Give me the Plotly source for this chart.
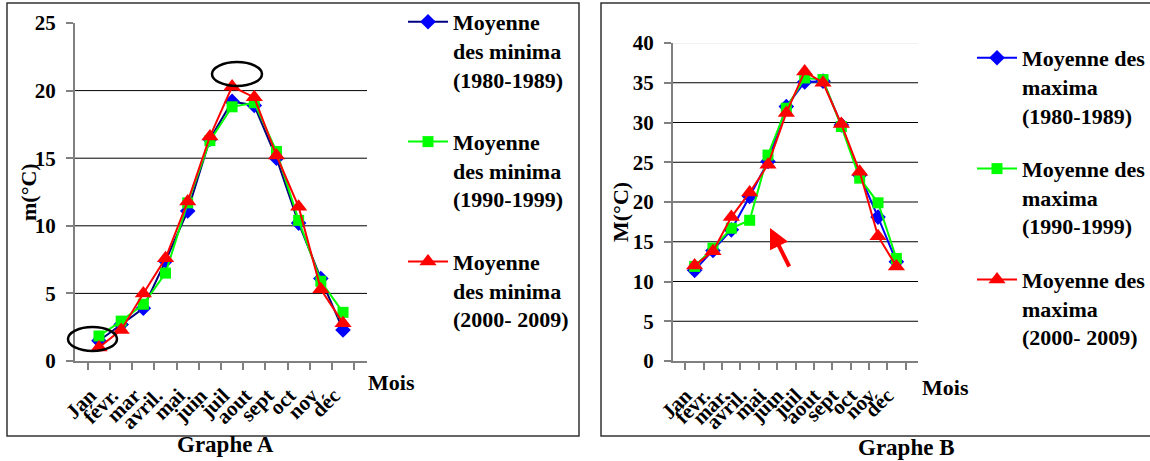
import plotly.graph_objects as go

W, H = 1150, 461

# Month labels for the two panels
months_a = ["Jan", "févr.", "mar", "avril.", "mai", "juin", "juil", "aout", "sept", "oct", "nov", "déc"]
months_b = ["Jan", "févr.", "mar.", "avril.", "mai", "juin", "juil", "aout", "sept", "oct", "nov", "déc"]

# Graphe A: monthly mean of minima (°C)
min_1980_1989 = [1.5, 2.7, 3.9, 7.4, 11.1, 16.4, 19.2, 18.9, 15.0, 10.2, 6.1, 2.3]
min_1990_1999 = [1.85, 2.95, 4.2, 6.5, 11.7, 16.3, 18.8, 19.1, 15.5, 10.4, 5.9, 3.6]
min_2000_2009 = [1.0, 2.3, 5.0, 7.6, 11.8, 16.6, 20.3, 19.5, 15.2, 11.4, 5.3, 2.8]

# Graphe B: monthly mean of maxima (°C)
max_1980_1989 = [11.4, 13.9, 16.5, 20.7, 25.1, 32.0, 35.1, 35.2, 29.7, 23.4, 18.1, 12.5]
max_1990_1999 = [11.9, 14.2, 16.7, 17.7, 25.9, 31.8, 35.6, 35.4, 29.5, 23.0, 19.9, 12.9]
max_2000_2009 = [12.0, 13.8, 18.1, 21.2, 24.7, 31.2, 36.4, 35.0, 29.8, 23.8, 15.7, 11.9]

names_a = ["Moyenne<br>des minima<br>(1980-1989)",
           "Moyenne<br>des minima<br>(1990-1999)",
           "Moyenne<br>des minima<br>(2000- 2009)"]
names_b = ["Moyenne des<br>maxima<br>(1980-1989)",
           "Moyenne des<br>maxima<br>(1990-1999)",
           "Moyenne des<br>maxima<br>(2000- 2009)"]


def px(x):
    return x / W


def py(y):
    return 1 - y / H


SERIF = "Liberation Serif, Times New Roman, serif"
BOLD = dict(family=SERIF, color="black", weight="bold")

styles = [
    dict(symbol="diamond", size=12, color="#0000FF"),
    dict(symbol="square", size=11, color="#00FF00"),
    dict(symbol="triangle-up", size=15, color="#FF0000"),
]

fig = go.Figure()

line_a = ["#000080", "#00FF00", "#FF0000"]
for i, (vals, name) in enumerate(zip([min_1980_1989, min_1990_1999, min_2000_2009], names_a)):
    st = styles[i]
    fig.add_trace(go.Scatter(
        x=months_a, y=vals, name=name, mode="lines+markers",
        line=dict(color=line_a[i], width=2),
        marker=dict(symbol=st["symbol"], size=st["size"], color=st["color"]),
        xaxis="x", yaxis="y", legend="legend", legendgroup=f"a{i}",
    ))

line_b = ["#0000FF", "#00FF00", "#FF0000"]
for i, (vals, name) in enumerate(zip([max_1980_1989, max_1990_1999, max_2000_2009], names_b)):
    st = styles[i]
    fig.add_trace(go.Scatter(
        x=months_b, y=vals, name=name, mode="lines+markers",
        line=dict(color=line_b[i], width=2),
        marker=dict(symbol=st["symbol"], size=st["size"], color=st["color"]),
        xaxis="x2", yaxis="y2", legend="legend2", legendgroup=f"b{i}",
    ))

xaxis_common = dict(
    type="category", showgrid=False, showline=True, linecolor="#808080", linewidth=2,
    ticks="outside", tickson="boundaries", ticklen=7, tickcolor="#808080", tickwidth=1.5,
    tickmode="linear", tick0=0, dtick=1, automargin=False,
    tickangle=-45, tickfont=dict(size=21, **BOLD), zeroline=False,
    ticklabelshift=-9, ticklabelstandoff=12,
)
yaxis_common = dict(
    showgrid=False, showline=True, linecolor="#808080", linewidth=2, automargin=False,
    ticks="outside", ticklen=7, tickcolor="#808080", tickwidth=1.5, dtick=5,
    tickfont=dict(size=21, **BOLD), zeroline=False, ticklabelstandoff=6,
)

shapes = []
# horizontal grid lines
for v in [5, 10, 15, 20]:
    shapes.append(dict(type="line", xref="x domain", yref="y", x0=0, x1=1, y0=v, y1=v,
                       line=dict(color="black", width=1), layer="below"))
for v in [5, 10, 15, 20, 25, 30, 35]:
    shapes.append(dict(type="line", xref="x2 domain", yref="y2", x0=0, x1=1, y0=v, y1=v,
                       line=dict(color="black", width=1), layer="below"))
shapes.append(dict(type="line", xref="x2 domain", yref="y2", x0=0, x1=1, y0=40, y1=40,
                   line=dict(color="#E6E6E6", width=1), layer="below"))

# panel frames
shapes.append(dict(type="rect", xref="paper", yref="paper", x0=px(7), x1=px(579), y0=py(436), y1=py(3),
                   line=dict(color="#333333", width=1.5)))
shapes.append(dict(type="rect", xref="paper", yref="paper", x0=px(601), x1=px(1160), y0=py(436), y1=py(3),
                   line=dict(color="#333333", width=1.5)))

# highlight ellipses on Graphe A
shapes.append(dict(type="circle", xref="paper", yref="paper", x0=px(68), x1=px(117), y0=py(351), y1=py(327),
                   line=dict(color="black", width=2.5)))
shapes.append(dict(type="circle", xref="paper", yref="paper", x0=px(212), x1=px(262), y0=py(86), y1=py(62),
                   line=dict(color="black", width=2.5)))


def label(text, x, y, size, angle=0):
    return dict(text=text, xref="paper", yref="paper", x=px(x), y=py(y), showarrow=False,
                xanchor="center", yanchor="middle", textangle=angle,
                font=dict(size=size, **BOLD))


annotations = [
    label("m(°C)", 29, 192, 22, -90),
    label("M(°C)", 620, 212, 22, -90),
    label("Mois", 391, 382, 22),
    label("Mois", 945, 387, 22),
    label("Graphe A", 225, 444, 23),
    label("Graphe B", 906, 447, 23),
    # red arrow on Graphe B
    dict(text="", xref="paper", yref="paper", x=px(770), y=py(228), ax=20, ay=40,
         showarrow=True, arrowhead=2, arrowsize=1, arrowwidth=4, arrowcolor="#FF0000"),
]

legend_common = dict(
    font=dict(size=22, **BOLD), bgcolor="rgba(0,0,0,0)", borderwidth=0,
    valign="top", itemwidth=40, xanchor="left", yanchor="top",
    itemclick=False, itemdoubleclick=False,
)

fig.update_layout(
    width=W, height=H, margin=dict(l=0, r=0, t=0, b=0, autoexpand=False),
    paper_bgcolor="white", plot_bgcolor="white",
    showlegend=True,
    xaxis=dict(domain=[px(75), px(367)], anchor="y", **xaxis_common),
    yaxis=dict(domain=[py(361), py(23)], range=[0, 25], anchor="x", **yaxis_common),
    xaxis2=dict(domain=[px(673), px(918)], anchor="y2", **xaxis_common),
    yaxis2=dict(domain=[py(361), py(43)], range=[0, 40], anchor="x2", **yaxis_common),
    legend=dict(x=px(403), y=py(1), tracegroupgap=31, **legend_common),
    legend2=dict(x=px(972), y=py(37), tracegroupgap=22, **legend_common),
    shapes=shapes,
    annotations=annotations,
)

fig.write_html("out.html")
